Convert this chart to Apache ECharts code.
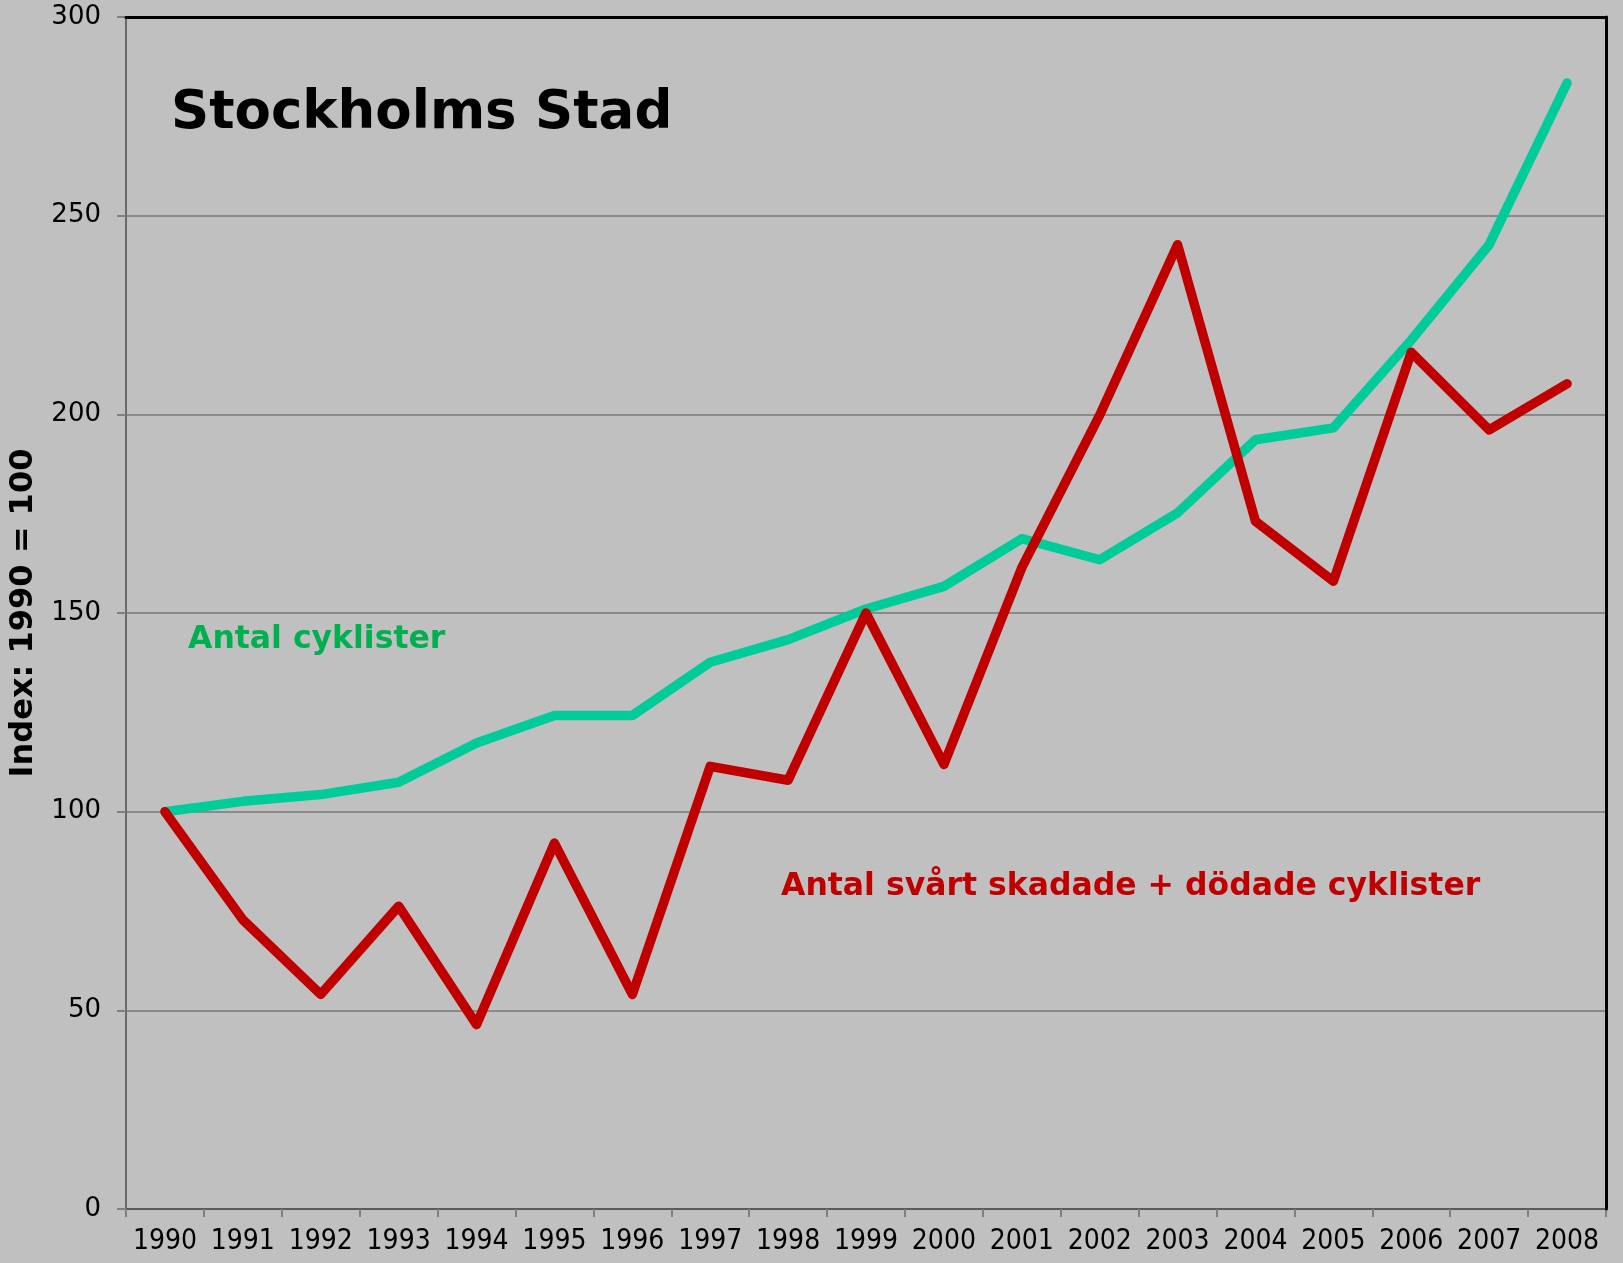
<!DOCTYPE html>
<html>
<head>
<meta charset="utf-8">
<title>Stockholms Stad</title>
<script src="https://cdn.jsdelivr.net/npm/echarts@6/dist/echarts.min.js"></script>
<style>
    html, body { margin: 0; padding: 0; background: #c0c0c0; }
    #chart { width: 1623px; height: 1263px; }
</style>
</head>
<body>
<div id="chart"></div>
<script>
// år + indexvärden (1990 = 100), avlästa ur originalbilden
var years = ['1990', '1991', '1992', '1993', '1994', '1995', '1996', '1997', '1998', '1999',
    '2000', '2001', '2002', '2003', '2004', '2005', '2006', '2007', '2008'];
var cyklister = [100, 102.6, 104.3, 107.4, 117.3, 124.2, 124.2, 137.6, 143.3, 151.0,
    156.7, 168.7, 163.4, 175.2, 193.6, 196.6, 218.7, 242.7, 283.4];
var skadade = [100, 72.8, 54.0, 76.2, 46.4, 92.1, 54.0, 111.4, 107.9, 150.0,
    111.9, 161.4, 199.8, 242.7, 173.1, 158.0, 215.6, 196.1, 207.7];
var yTicks = [0, 50, 100, 150, 200, 250, 300];

var chartDom = document.getElementById('chart');
var myChart = echarts.init(chartDom);
var option;

option = {
    animation: false,
    backgroundColor: '#c0c0c0',
    textStyle: { fontFamily: 'DejaVu Sans' },
    title: [
        {
            text: 'Stockholms Stad',
            left: 166, top: 83,
            textStyle: { fontFamily: 'DejaVu Sans', fontWeight: 'bold', fontSize: 53, color: '#000' }
        },
        {
            text: 'Antal cyklister',
            left: 183, top: 619,
            textStyle: { fontFamily: 'DejaVu Sans', fontWeight: 'bold', fontSize: 31.5, color: '#00b050' }
        },
        {
            text: 'Antal svårt skadade + dödade cyklister',
            left: 776, top: 866,
            textStyle: { fontFamily: 'DejaVu Sans', fontWeight: 'bold', fontSize: 31.5, color: '#c00000' }
        }
    ],
    grid: { left: 126, top: 17, right: 17, bottom: 54, containLabel: false, outerBoundsMode: 'none' },
    xAxis: [
        {
            type: 'category',
            data: years,
            boundaryGap: true,
            axisLine: { lineStyle: { color: '#5a5a5a', width: 2 } },
            axisTick: { show: true, length: 8, lineStyle: { color: '#808080', width: 2 } },
            axisLabel: {
                interval: 0, margin: 19, fontSize: 28, color: '#000',
                fontFamily: 'DejaVu Sans Condensed'
            },
            splitLine: { show: false }
        },
        {
            // svart ram upptill
            type: 'category',
            data: years,
            position: 'top',
            z: 5,
            axisLine: { onZero: false, lineStyle: { color: '#000', width: 3 } },
            axisTick: { show: false },
            axisLabel: { show: false }
        }
    ],
    yAxis: [
        {
            type: 'value',
            min: yTicks[0],
            max: yTicks[yTicks.length - 1],
            interval: 50,
            name: 'Index: 1990 = 100',
            nameLocation: 'middle',
            nameGap: 86,
            nameRotate: 90,
            nameTextStyle: { fontFamily: 'DejaVu Sans', fontWeight: 'bold', fontSize: 32, color: '#000' },
            axisLine: { show: true, onZero: false, lineStyle: { color: '#6a6a6a', width: 2 } },
            axisTick: { show: true, length: 9, lineStyle: { color: '#808080', width: 2 } },
            axisLabel: { margin: 25, fontSize: 26, color: '#000', fontFamily: 'DejaVu Sans' },
            splitLine: { lineStyle: { color: '#8a8a8a', width: 2 } }
        },
        {
            // svart ram till höger
            type: 'value',
            min: yTicks[0],
            max: yTicks[yTicks.length - 1],
            interval: 50,
            position: 'right',
            z: 5,
            axisLine: { show: true, onZero: false, lineStyle: { color: '#000', width: 3 } },
            axisTick: { show: false },
            axisLabel: { show: false },
            splitLine: { show: false }
        }
    ],
    series: [
        {
            name: 'Antal cyklister',
            type: 'line',
            data: cyklister,
            symbol: 'none',
            lineStyle: { color: '#00cc99', width: 9.5, cap: 'round', join: 'round' },
            z: 3
        },
        {
            name: 'Antal svårt skadade + dödade cyklister',
            type: 'line',
            data: skadade,
            symbol: 'none',
            lineStyle: { color: '#c00000', width: 9.5, cap: 'round', join: 'round' },
            z: 4
        }
    ]
};

option && myChart.setOption(option);
</script>
</body>
</html>
